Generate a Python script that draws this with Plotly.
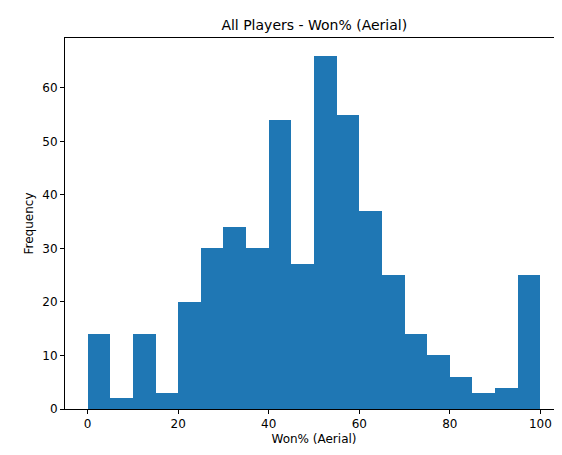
import plotly.graph_objects as go

bin_left = [0, 5, 10, 15, 20, 25, 30, 35, 40, 45, 50, 55, 60, 65, 70, 75, 80, 85, 90, 95]
counts = [14, 2, 14, 3, 20, 30, 34, 30, 54, 27, 66, 55, 37, 25, 14, 10, 6, 3, 4, 25]
bin_width = 5

fig = go.Figure()
fig.add_bar(
    x=[b + bin_width / 2 for b in bin_left],
    y=counts,
    width=bin_width,
    marker=dict(color="#1f77b4", line=dict(width=0)),
)

axis_style = dict(
    showgrid=False, zeroline=False, showline=True, mirror=True,
    linecolor="black", linewidth=1, ticks="outside", ticklen=4,
    tickcolor="black", tickfont=dict(size=12, color="black"), automargin=False,
)
fig.update_xaxes(range=[-5, 105], tickvals=[0, 20, 40, 60, 80, 100],
                 title=dict(text="Won% (Aerial)", font=dict(size=12, color="black"), standoff=4),
                 **axis_style)
fig.update_yaxes(range=[0, 69.3], tickvals=[0, 10, 20, 30, 40, 50, 60],
                 title=dict(text="Frequency", font=dict(size=12, color="black"), standoff=6),
                 **axis_style)
fig.update_layout(
    width=562, height=455,
    plot_bgcolor="white", paper_bgcolor="white",
    font=dict(family="DejaVu Sans"),
    title=dict(text="All Players - Won% (Aerial)", x=0.545, xanchor="center",
               y=0.962, yanchor="middle", font=dict(size=14, color="black")),
    margin=dict(l=57, r=7, t=30, b=54, autoexpand=False),
    showlegend=False, bargap=0,
)

fig.write_html("out.html")
